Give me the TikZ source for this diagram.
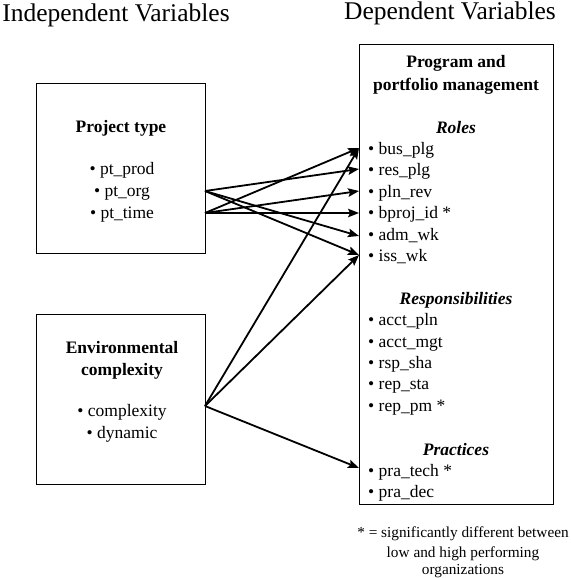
\documentclass[tikz,border=0pt]{standalone}
\usepackage{fontspec}
\setmainfont{Liberation Serif}
\usetikzlibrary{arrows.meta}
\begin{document}
\begin{tikzpicture}[x=1pt,y=-1pt,
  box/.style={draw,line width=1pt,inner sep=0pt},
  head/.style={font=\fontsize{25.5}{28}\selectfont,anchor=base,inner sep=0pt},
  txt/.style={font=\fontsize{17.5}{21}\selectfont,anchor=base,inner sep=0pt},
  foot/.style={font=\fontsize{15.3}{18}\selectfont,anchor=base,inner sep=0pt},
  item/.style={font=\fontsize{17.5}{21}\selectfont,anchor=base west,inner sep=0pt},
  bhead/.style={font=\fontsize{17.5}{21}\selectfont\bfseries,anchor=base,inner sep=0pt},
  ihead/.style={font=\fontsize{17.5}{21}\selectfont\bfseries\itshape,anchor=base,inner sep=0pt},
  arr/.style={line width=1.8pt,-{Stealth[length=11pt,width=8.5pt,inset=2pt]}}]
\useasboundingbox (0,0) rectangle (570,578);
% headings
\node[head] (hind) at (116,22) {Independent Variables};
\node[head] (hdep) at (450,20) {Dependent Variables};
% boxes
\draw[box] (36,83) rectangle (205,253);
\draw[box] (36,314) rectangle (205,484);
\draw[box] (359,45) rectangle (553,504);
\node (pt) at (120.5,168) [minimum width=169pt,minimum height=170pt] {};
\node (env) at (120.5,399) [minimum width=169pt,minimum height=170pt] {};
\node (rb) at (456,274.5) [minimum width=194pt,minimum height=459pt] {};
% left box 1
\node[bhead] (ptt) at (121,132) {Project type};
\node[txt] (ptprod) at (122,174) {\textbullet\ pt\_prod};
\node[txt] (ptorg) at (122,196) {\textbullet\ pt\_org};
\node[txt] (pttime) at (122,218) {\textbullet\ pt\_time};
% left box 2
\node[bhead] (envt1) at (122,353) {Environmental};
\node[bhead] (envt2) at (122,375) {complexity};
\node[txt] (cplx) at (122,416) {\textbullet\ complexity};
\node[txt] (dyn) at (122,438) {\textbullet\ dynamic};
% right box
\node[bhead] (pm1) at (456,67) {Program and};
\node[bhead] (pm2) at (456,90) {portfolio management};
\node[ihead] (roles) at (456,133) {Roles};
\node[item] (bus) at (368,154) {\textbullet\ bus\_plg};
\node[item] (res) at (368,175.5) {\textbullet\ res\_plg};
\node[item] (pln) at (368,197) {\textbullet\ pln\_rev};
\node[item] (bproj) at (368,218.5) {\textbullet\ bproj\_id *};
\node[item] (adm) at (368,240) {\textbullet\ adm\_wk};
\node[item] (iss) at (368,261) {\textbullet\ iss\_wk};
\node[ihead] (resp) at (456,304) {Responsibilities};
\node[item] (acpl) at (368,325.5) {\textbullet\ acct\_pln};
\node[item] (acmg) at (368,347) {\textbullet\ acct\_mgt};
\node[item] (rsp) at (368,368) {\textbullet\ rsp\_sha};
\node[item] (rsta) at (368,389.5) {\textbullet\ rep\_sta};
\node[item] (rpm) at (368,411) {\textbullet\ rep\_pm *};
\node[ihead] (prac) at (456,455) {Practices};
\node[item] (ptech) at (368,476) {\textbullet\ pra\_tech *};
\node[item] (pdec) at (368,497.5) {\textbullet\ pra\_dec};
% footnote
\node[foot] (fn1) at (463,537) {* = significantly different between};
\node[foot] (fn2) at (463,557) {low and high performing};
\node[foot] (fn3) at (463,574) {organizations};
% connector anchor points
\coordinate (sOrg) at (205,191);
\coordinate (sTime) at (205,213);
\coordinate (sEnv) at (205,406);
\coordinate (tBus) at (359,148);
\coordinate (tRes) at (359,169);
\coordinate (tPln) at (359,191);
\coordinate (tBproj) at (359,213);
\coordinate (tAdm) at (359,236);
\coordinate (tIss) at (359,255);
\coordinate (tTech) at (359,468);
% arrows
\draw[arr] (sOrg) -- (tRes);
\draw[arr] (sOrg) -- (tAdm);
\draw[arr] (sOrg) -- (tIss);
\draw[arr] (sTime) -- (tBus);
\draw[arr] (sTime) -- (tPln);
\draw[arr] (sTime) -- (tBproj);
\draw[arr] (sEnv) -- (tBus);
\draw[arr] (sEnv) -- (tIss);
\draw[arr] (sEnv) -- (tTech);
\end{tikzpicture}
\end{document}
